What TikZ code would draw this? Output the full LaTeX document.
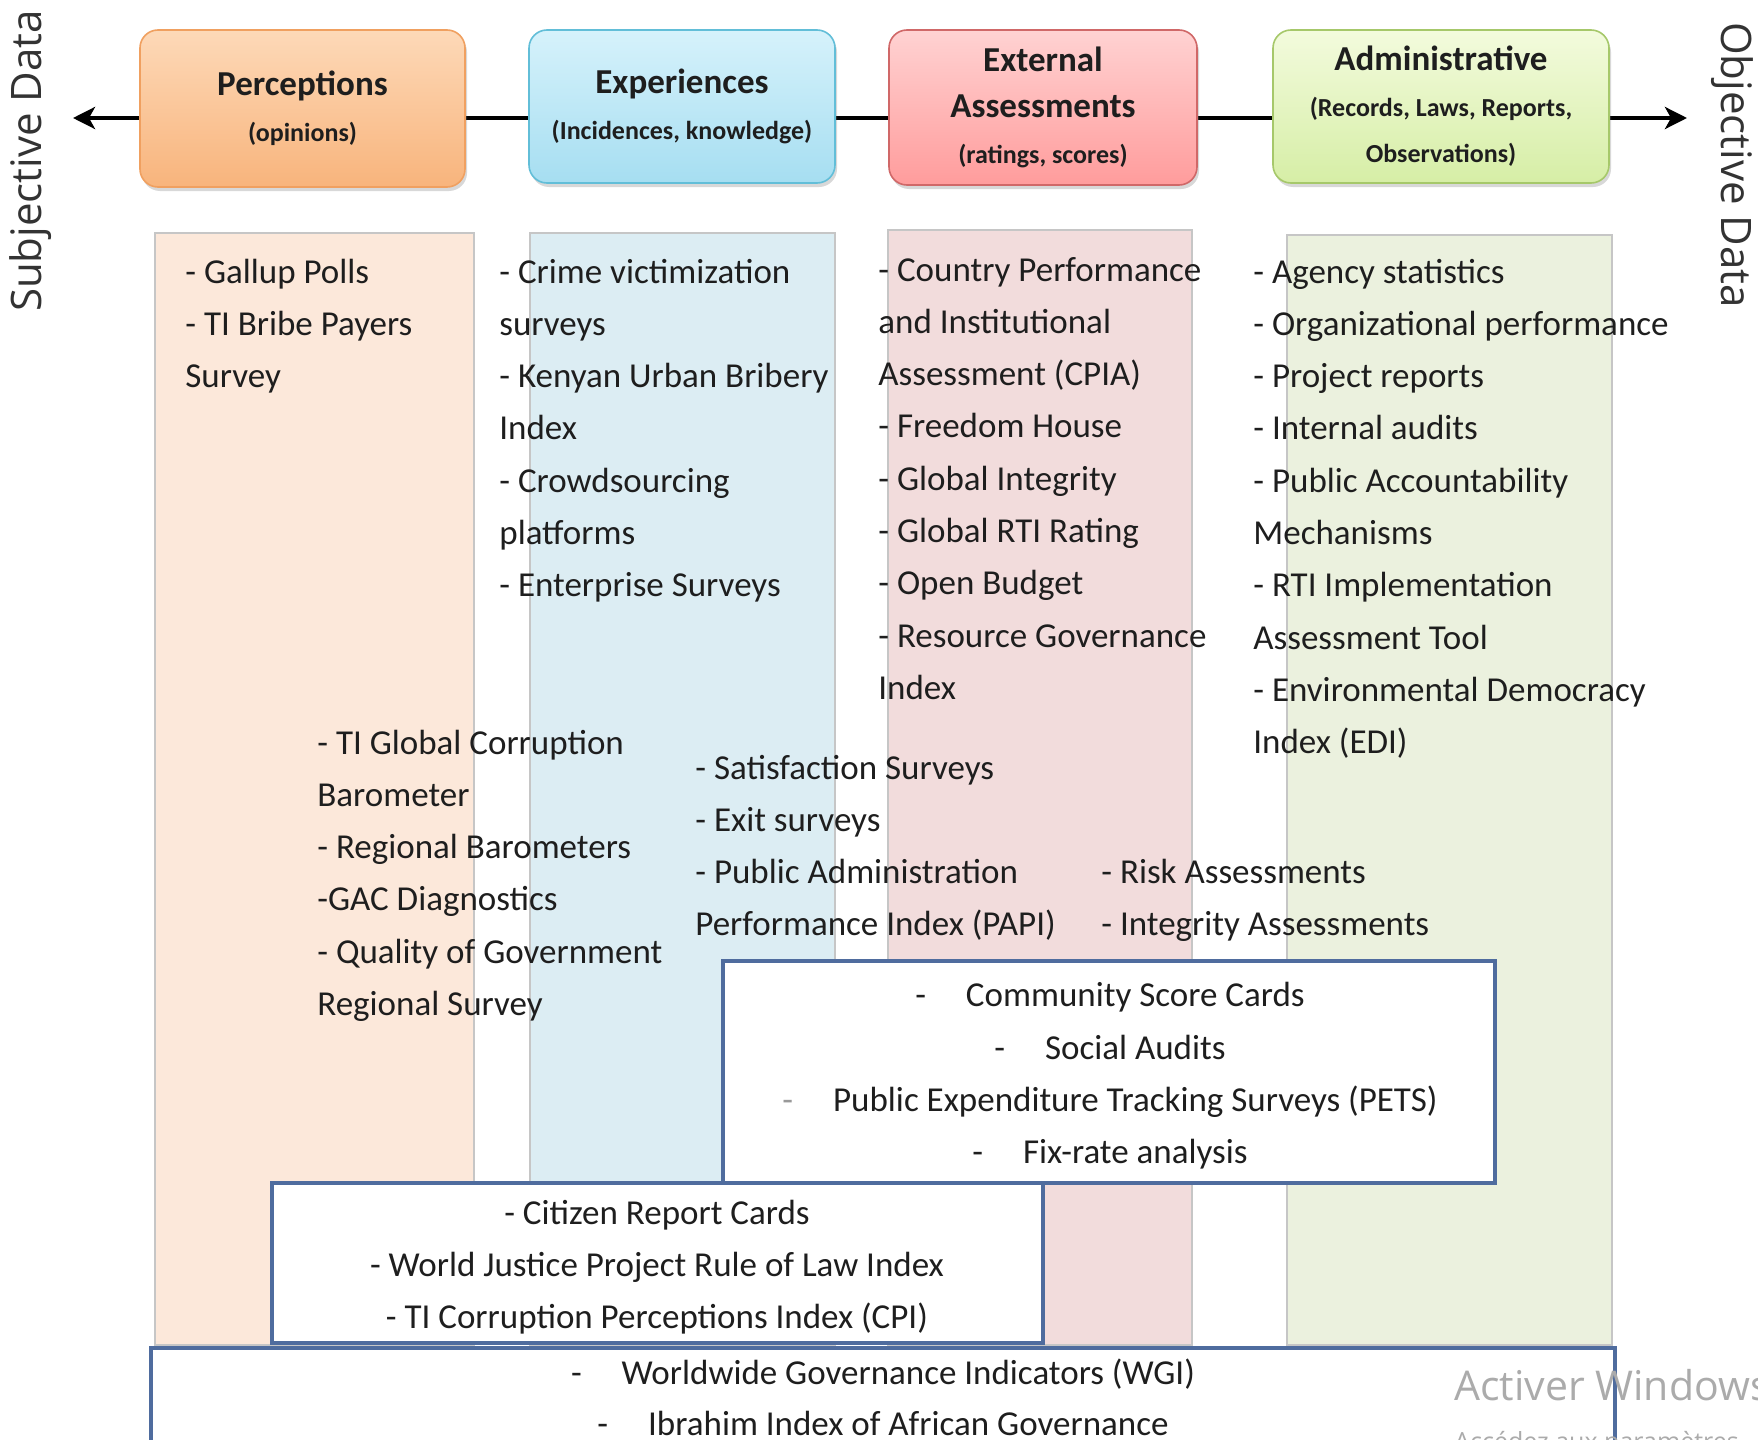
\documentclass[tikz,border=0pt]{standalone}
\usepackage{fontspec}
\setmainfont{Carlito}
\newfontfamily\sidefnt{Open Sans}
\usetikzlibrary{arrows.meta,shadows}
\definecolor{txt}{HTML}{1E1E1E}
\definecolor{percF1}{HTML}{FDD9B8}
\definecolor{percF2}{HTML}{F8B47C}
\definecolor{percD}{HTML}{F0A060}
\definecolor{expF1}{HTML}{D6F2FB}
\definecolor{expF2}{HTML}{A6DEF1}
\definecolor{expD}{HTML}{62BED8}
\definecolor{extF1}{HTML}{FFD2D2}
\definecolor{extF2}{HTML}{FF9C9C}
\definecolor{extD}{HTML}{D06868}
\definecolor{admF1}{HTML}{F3FBDD}
\definecolor{admF2}{HTML}{D6EEA6}
\definecolor{admD}{HTML}{A6C86A}
\definecolor{pcol}{HTML}{FCE8DA}
\definecolor{ecol}{HTML}{DCEDF3}
\definecolor{xcol}{HTML}{F2DCDC}
\definecolor{acol}{HTML}{EBF1DE}
\definecolor{colline}{HTML}{C6C6C6}
\definecolor{boxblue}{HTML}{4F6C9E}
\definecolor{wm}{HTML}{ABABAB}
\newcommand\bodyfnt{\fontsize{17.5}{26.15}\selectfont}
\newcommand\hmainfnt{\fontsize{17.5}{23}\selectfont\bfseries}
\newcommand\hsubfnt{\fontsize{13}{23}\selectfont\bfseries}
\tikzset{
  hdr/.style={rounded corners=9pt, line width=0.8pt, inner sep=0pt, align=center,
    font=\hsubfnt, text=txt,
    drop shadow={opacity=0.3, shadow xshift=1pt, shadow yshift=-2pt}},
  colbox/.style={draw=colline, line width=0.6pt},
  lst/.style={anchor=base west, align=left, inner sep=0pt, font=\bodyfnt, text=txt},
  ctr/.style={anchor=center, align=center, inner sep=0pt, font=\bodyfnt, text=txt},
  ibox/.style={draw=boxblue, line width=2pt, fill=white},
  axis/.style={line width=2.3pt, {Stealth[length=11pt,width=11pt,inset=3pt]}-{Stealth[length=11pt,width=11pt,inset=3pt]}},
  side/.style={font=\sidefnt\fontsize{21}{24}\selectfont, text=black!80, inner sep=0pt}
}
\begin{document}
\begin{tikzpicture}[x=0.5pt,y=-0.5pt]
\clip (0,0) rectangle (1758,1440);
\useasboundingbox (0,0) rectangle (1758,1440);
\fill[white] (0,0) rectangle (1758,1440);

% axis
\coordinate (ltip) at (73,118);
\coordinate (rtip) at (1687,118);
\draw[axis] (ltip) -- (rtip);

% header boxes
\node[hdr, draw=percD, top color=percF1, bottom color=percF2, minimum width=162.5pt, minimum height=78.5pt] (perc) at (302.5,108.5)
  {{\hmainfnt Perceptions}\\(opinions)};
\node[hdr, draw=expD, top color=expF1, bottom color=expF2, minimum width=153pt, minimum height=76.5pt] (exp) at (682,106.5)
  {{\hmainfnt Experiences}\\(Incidences, knowledge)};
\node[hdr, draw=extD, top color=extF1, bottom color=extF2, minimum width=154pt, minimum height=77.5pt] (ext) at (1043,107.5)
  {{\hmainfnt External}\\{\hmainfnt Assessments}\\(ratings, scores)};
\node[hdr, draw=admD, top color=admF1, bottom color=admF2, minimum width=168pt, minimum height=76.5pt] (adm) at (1441,106.5)
  {{\hmainfnt Administrative}\\(Records, Laws, Reports,\\Observations)};

% side labels
\node[side, rotate=90] (subj) at (31,161) {Subjective Data};
\node[side, rotate=-90] (obj) at (1732,165) {Objective Data};

% columns
\path[colbox, fill=pcol] (155,233) rectangle (474,1345);
\path[colbox, fill=ecol] (530,233) rectangle (835,1345);
\path[colbox, fill=xcol] (888,230) rectangle (1192,1345);
\path[colbox, fill=acol] (1287,235) rectangle (1612,1345);

% column lists (anchor = baseline of last line)
\node[lst] (plist) at (185,387.6) {- Gallup Polls\\- TI Bribe Payers\\Survey};
\node[lst] (elist) at (499,596.8) {- Crime victimization\\surveys\\- Kenyan Urban Bribery\\Index\\- Crowdsourcing\\platforms\\- Enterprise Surveys};
\node[lst] (xlist) at (878,699.4) {- Country Performance\\and Institutional\\Assessment (CPIA)\\- Freedom House\\- Global Integrity\\- Global RTI Rating\\- Open Budget\\- Resource Governance\\Index};
\node[lst] (alist) at (1253,753.7) {- Agency statistics\\- Organizational performance\\- Project reports\\- Internal audits\\- Public Accountability\\Mechanisms\\- RTI Implementation\\Assessment Tool\\- Environmental Democracy\\Index (EDI)};

% middle lists
\node[lst] (mlist) at (317,1015.5) {- TI Global Corruption\\Barometer\\- Regional Barometers\\-GAC Diagnostics\\- Quality of Government\\Regional Survey};
\node[lst] (clist) at (695,935.9) {- Satisfaction Surveys\\- Exit surveys\\- Public Administration\\Performance Index (PAPI)};
\node[lst] (rlist) at (1101,935.3) {- Risk Assessments\\- Integrity Assessments};

% boxes
\node[ibox, minimum width=386pt, minimum height=111pt] (comm) at (1109,1072) {};
\node[ctr] (commtxt) at (1110,1076)
  {-\hspace{20pt}Community Score Cards\\-\hspace{20pt}Social Audits\\{\color{black!40}-}\hspace{20pt}Public Expenditure Tracking Surveys (PETS)\\-\hspace{20pt}Fix-rate analysis};
\node[ibox, minimum width=385.5pt, minimum height=80pt] (cit) at (657.5,1263) {};
\node[ctr] (cittxt) at (657,1267)
  {- Citizen Report Cards\\- World Justice Project Rule of  Law Index\\- TI Corruption Perceptions Index (CPI)};
\node[ibox, minimum width=732pt, minimum height=66pt] (wgi) at (883,1414) {};
\node[lst, anchor=base] (wgitxt) at (883,1384)
  {-\hspace{20pt}Worldwide Governance Indicators (WGI)};
\node[lst, anchor=base] (ibtxt) at (883,1435)
  {-\hspace{20pt}Ibrahim Index of African Governance};

% watermark
\node[anchor=base west, inner sep=0pt, text=wm, font=\sidefnt\fontsize{20.5}{24}\selectfont] (wm1) at (1454,1400) {Activer Windows};
\node[anchor=base west, inner sep=0pt, text=wm, font=\sidefnt\fontsize{12.5}{15}\selectfont] (wm2) at (1454,1450) {Accédez aux paramètres};
\end{tikzpicture}
\end{document}
